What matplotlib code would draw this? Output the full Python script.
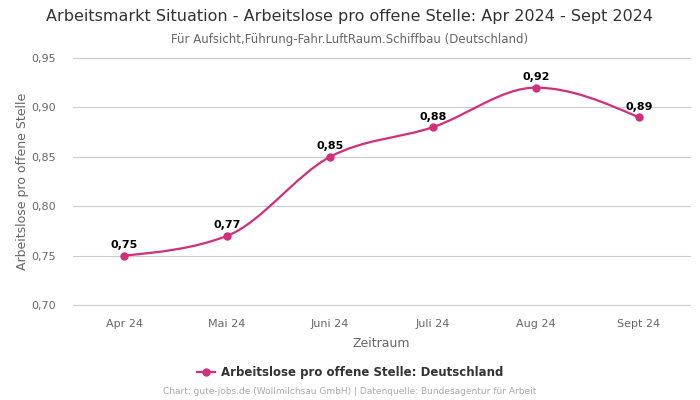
import numpy as np
import matplotlib.pyplot as plt
from matplotlib.path import Path
from matplotlib.patches import PathPatch
from matplotlib.lines import Line2D

months = ['Apr 24', 'Mai 24', 'Juni 24', 'Juli 24', 'Aug 24', 'Sept 24']
values = [0.75, 0.77, 0.85, 0.88, 0.92, 0.89]
y_ticks = [0.70, 0.75, 0.80, 0.85, 0.90, 0.95]

line_color = '#d22e7b'


def monotone_path(x, y):
    # monotone cubic (like d3 curveMonotoneX) as bezier path
    x = np.asarray(x, float)
    y = np.asarray(y, float)
    n = len(x)
    h = np.diff(x)
    s = np.diff(y) / h
    t = np.zeros(n)
    for i in range(1, n - 1):
        p = (s[i - 1] * h[i] + s[i] * h[i - 1]) / (h[i - 1] + h[i])
        t[i] = (np.sign(s[i - 1]) + np.sign(s[i])) * min(abs(s[i - 1]), abs(s[i]), 0.5 * abs(p))
    t[0] = (3 * s[0] - t[1]) / 2
    t[-1] = (3 * s[-1] - t[-2]) / 2
    verts = [(x[0], y[0])]
    codes = [Path.MOVETO]
    for i in range(n - 1):
        dx = h[i] / 3
        verts += [(x[i] + dx, y[i] + dx * t[i]),
                  (x[i + 1] - dx, y[i + 1] - dx * t[i + 1]),
                  (x[i + 1], y[i + 1])]
        codes += [Path.CURVE4] * 3
    return Path(verts, codes)


fig = plt.figure(figsize=(7, 4), dpi=100)
ax = fig.add_axes([0.104, 0.2375, 0.882, 0.6175])

xs = np.arange(len(months))
ax.add_patch(PathPatch(monotone_path(xs, values), facecolor='none',
                       edgecolor=line_color, lw=1.6, zorder=3))
ax.plot(xs, values, 'o', color=line_color, ms=5, zorder=4)

for xi, v in zip(xs, values):
    ax.annotate(f'{v:.2f}'.replace('.', ','), (xi, v), xytext=(0, 4),
                textcoords='offset points', ha='center', va='bottom',
                fontsize=8, fontweight='bold', color='black')

ax.set_xlim(-0.5, len(months) - 0.5)
ax.set_ylim(0.70, 0.95)
ax.set_xticks(xs)
ax.set_xticklabels(months)
ax.set_yticks(y_ticks)
ax.set_yticklabels([f'{t:.2f}'.replace('.', ',') for t in y_ticks])
ax.tick_params(axis='both', length=0, labelsize=8, colors='#666666')
ax.tick_params(axis='x', pad=10)
ax.tick_params(axis='y', pad=12)
ax.grid(axis='y', color='#cccccc', lw=0.8)
for gl in ax.get_ygridlines():
    gl.set_clip_on(False)
ax.set_axisbelow(True)
for sp in ax.spines.values():
    sp.set_visible(False)

ax.set_xlabel('Zeitraum', fontsize=9, color='#666666', labelpad=6)
ax.set_ylabel('Arbeitslose pro offene Stelle', fontsize=9, color='#666666', labelpad=2)

fig.text(0.5, 0.958, 'Arbeitsmarkt Situation - Arbeitslose pro offene Stelle: Apr 2024 - Sept 2024',
         ha='center', va='center', fontsize=11.5, color='#333333')
fig.text(0.5, 0.902, 'Für Aufsicht,Führung-Fahr.LuftRaum.Schiffbau (Deutschland)',
         ha='center', va='center', fontsize=8.5, color='#666666')

handle = Line2D([], [], color=line_color, marker='o', ms=5, lw=1.6)
fig.legend([handle], ['Arbeitslose pro offene Stelle: Deutschland'],
           loc='center', bbox_to_anchor=(0.5, 0.068), frameon=False,
           prop={'size': 8.5, 'weight': 'bold'}, labelcolor='#333333',
           handlelength=1.5, handletextpad=0.5)

fig.text(0.5, 0.02, 'Chart: gute-jobs.de (Wollmilchsau GmbH) | Datenquelle: Bundesagentur für Arbeit',
         ha='center', va='center', fontsize=6.5, color='#aaaaaa')

fig.savefig('out.png', dpi=100)
